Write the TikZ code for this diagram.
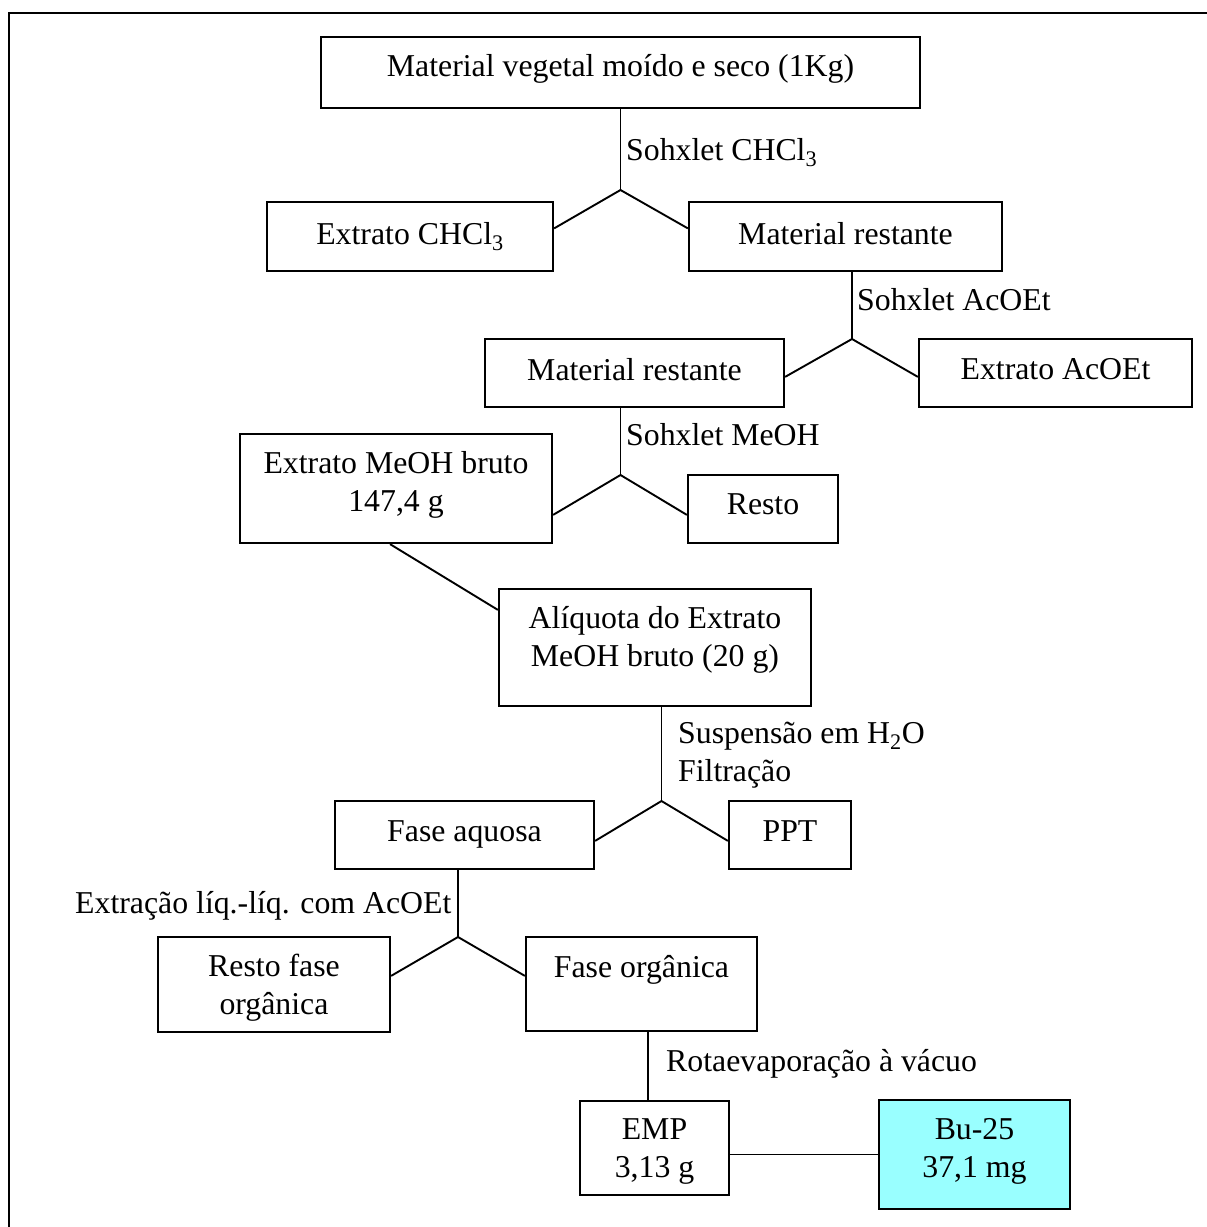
\documentclass[tikz,border=0pt]{standalone}
\usepackage{fontspec}
\setmainfont{Liberation Serif}
\usetikzlibrary{calc}
\definecolor{cyanfill}{RGB}{153,255,255}
\begin{document}
\begin{tikzpicture}[x=1pt,y=-1pt,
  every node/.style={font=\fontsize{31.8}{38}\selectfont},
  box/.style={draw,line width=2.2pt,rectangle,inner sep=0pt},
  txt/.style={anchor=base,inner sep=0pt},
  lbl/.style={anchor=base west,inner sep=0pt},
  conn/.style={line width=1.9pt}]
\useasboundingbox (0,0) rectangle (1207,1227);
% frame
\draw[line width=2.8pt] (9,1227) -- (9,13) -- (1207,13);

% boxes
\node[box,minimum width=599pt,minimum height=71pt] (b1) at (620.5,72.5) {};
\node[box,minimum width=286pt,minimum height=69pt] (b2) at (410,236.5) {};
\node[box,minimum width=313pt,minimum height=69pt] (b3) at (845.5,236.5) {};
\node[box,minimum width=299pt,minimum height=68pt] (b4) at (634.5,373) {};
\node[box,minimum width=273pt,minimum height=68pt] (b5) at (1055.5,373) {};
\node[box,minimum width=312pt,minimum height=109pt] (b6) at (396,488.5) {};
\node[box,minimum width=150pt,minimum height=68pt] (b7) at (763,509) {};
\node[box,minimum width=312pt,minimum height=117pt] (b8) at (655,647.5) {};
\node[box,minimum width=259pt,minimum height=68pt] (b9) at (464.5,835) {};
\node[box,minimum width=122pt,minimum height=68pt] (b10) at (790,835) {};
\node[box,minimum width=232pt,minimum height=95pt] (b11) at (274,984.5) {};
\node[box,minimum width=231pt,minimum height=94pt] (b12) at (641.5,984) {};
\node[box,minimum width=149pt,minimum height=94pt] (b13) at (654.5,1148) {};
\node[box,fill=cyanfill,minimum width=191pt,minimum height=109pt] (b14) at (974.5,1154.5) {};

% box texts
\node[txt] (t1) at (620.5,76) {Material vegetal moído e seco (1Kg)};
\node[txt] (t2) at (410,244) {Extrato CHCl\textsubscript{3}};
\node[txt] (t3) at (845.5,244) {Material restante};
\node[txt] (t4) at (634.5,380) {Material restante};
\node[txt] (t5) at (1055.5,379) {Extrato AcOEt};
\node[txt] (t6) at (396,473) {\begin{tabular}[t]{@{}c@{}}Extrato MeOH bruto\\147,4 g\end{tabular}};
\node[txt] (t7) at (763,514) {Resto};
\node[txt] (t8) at (655,628) {\begin{tabular}[t]{@{}c@{}}Alíquota do Extrato\\MeOH bruto (20 g)\end{tabular}};
\node[txt] (t9) at (464.5,841) {Fase aquosa};
\node[txt] (t10) at (790,841) {PPT};
\node[txt] (t11) at (274,976) {\begin{tabular}[t]{@{}c@{}}Resto fase\\orgânica\end{tabular}};
\node[txt] (t12) at (641.5,977) {Fase orgânica};
\node[txt] (t13) at (654.5,1139) {\begin{tabular}[t]{@{}c@{}}EMP\\3,13 g\end{tabular}};
\node[txt] (t14) at (974.5,1139) {\begin{tabular}[t]{@{}c@{}}Bu-25\\37,1 mg\end{tabular}};

% junction points
\coordinate (j1) at (620.5,190);
\coordinate (j2) at (852,339);
\coordinate (j3) at (620.5,475);
\coordinate (j4) at (661.5,801);
\coordinate (j5) at (458,937);
\coordinate (x6) at (648,1066);

% connectors
\draw[conn] (b1.south) -- (j1);
\draw[conn] ([yshift=-27.5pt]b2.north east) -- (j1) -- ([yshift=-27.5pt]b3.north west);

\draw[conn] (j2 |- b3.south) -- (j2);
\draw[conn] ([yshift=-39pt]b4.north east) -- (j2) -- ([yshift=-39pt]b5.north west);

\draw[conn] (j3 |- b4.south) -- (j3);
\draw[conn] ([yshift=-82pt]b6.north east) -- (j3) -- ([yshift=-41pt]b7.north west);

\draw[conn] ([xshift=-6pt]b6.south) -- ([yshift=-22pt]b8.north west);

\draw[conn] (j4 |- b8.south) -- (j4);
\draw[conn] ([yshift=-41pt]b9.north east) -- (j4) -- ([yshift=-41pt]b10.north west);

\draw[conn] (j5 |- b9.south) -- (j5);
\draw[conn] ([yshift=-40pt]b11.north east) -- (j5) -- ([yshift=-40pt]b12.north west);

\draw[conn] (x6 |- b12.south) -- (x6 |- b13.north);
\draw[conn] (b13.east |- b14.west) -- (b14.west);

% step labels
\node[lbl] (l1) at (626,160) {Sohxlet CHCl\textsubscript{3}};
\node[lbl] (l2) at (857,310) {Sohxlet AcOEt};
\node[lbl] (l3) at (626,445) {Sohxlet MeOH};
\node[lbl] (l4) at (678,743) {\begin{tabular}[t]{@{}l@{}}Suspensão em H\textsubscript{2}O\\Filtração\end{tabular}};
\node[lbl] (l5) at (75,913) {Extração líq.-líq. com AcOEt};
\node[lbl] (l6) at (666,1071) {Rotaevaporação à vácuo};
\end{tikzpicture}
\end{document}
